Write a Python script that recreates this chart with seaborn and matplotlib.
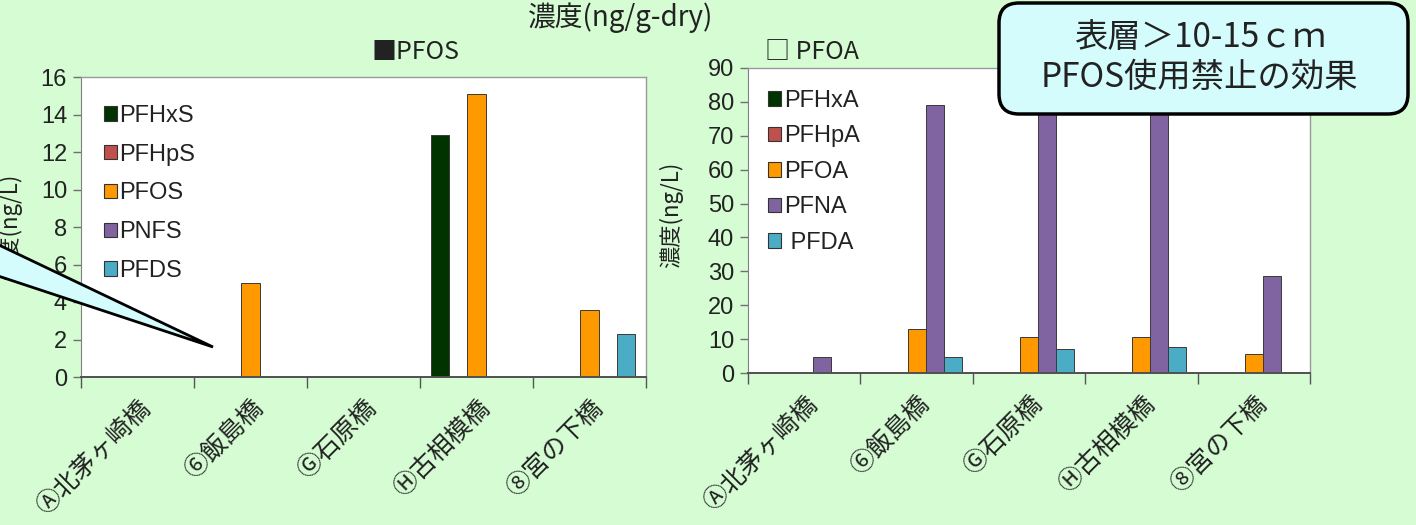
import numpy as np
import pandas as pd
import matplotlib
matplotlib.use("Agg")
import matplotlib.pyplot as plt
from matplotlib.patches import Patch, FancyBboxPatch, Polygon
import seaborn as sns

# Sampling sites along the river
sites = ["Ⓐ北茅ヶ崎橋", "⑥飯島橋", "Ⓖ石原橋", "Ⓗ古相模橋", "⑧宮の下橋"]

# Perfluoroalkyl sulfonates (ng/L)
sulfonates = ["PFHxS", "PFHpS", "PFOS", "PNFS", "PFDS"]
pfhxs = [0, 0, 0, 12.9, 0]
pfhps = [0, 0, 0, 0, 0]
pfos = [0, 5.0, 0, 15.1, 3.6]
pnfs = [0, 0, 0, 0, 0]
pfds = [0, 0, 0, 0, 2.3]

# Perfluoroalkyl carboxylates (ng/L)
carboxylates = ["PFHxA", "PFHpA", "PFOA", "PFNA", " PFDA"]
pfhxa = [0, 0, 0, 0, 0]
pfhpa = [0, 0, 0, 0, 0]
pfoa = [0, 13.0, 10.6, 10.6, 5.7]
pfna = [4.8, 79.0, 84.0, 86.0, 28.6]
pfda = [0, 4.8, 7.2, 7.7, 0]

left_ticks = list(range(0, 17, 2))
right_ticks = list(range(0, 91, 10))

series_colors = ["#003300", "#c0504d", "#ff9900", "#8064a2", "#4bacc6"]
BG = "#d5fcd3"
CALLOUT = "#d4fcfc"

LATIN = ["Liberation Sans", "Noto Sans CJK JP"]
CJK = ["Noto Sans CJK JP", "DejaVu Sans"]

sns.set_style("ticks")
plt.rcParams["font.family"] = LATIN


def long_table(names, columns):
    rows = []
    for name, vals in zip(names, columns):
        for site, v in zip(sites, vals):
            rows.append({"site": site, "compound": name, "value": v})
    return pd.DataFrame(rows)


df_left = long_table(sulfonates, [pfhxs, pfhps, pfos, pnfs, pfds])
df_right = long_table(carboxylates, [pfhxa, pfhpa, pfoa, pfna, pfda])

W, H = 1416, 525
fig = plt.figure(figsize=(W / 100, H / 100), dpi=100)
fig.patch.set_facecolor(BG)


def px_axes(x0, y0, x1, y1):
    return fig.add_axes([x0 / W, 1 - y1 / H, (x1 - x0) / W, (y1 - y0) / H])


ax_l = px_axes(81, 77, 646, 377)
ax_r = px_axes(748, 68, 1310, 373)


def draw_panel(ax, df, names, ticks, ymax, legend_anchor, legend_spacing):
    sns.barplot(data=df, x="site", y="value", hue="compound", order=sites,
                hue_order=names, palette=series_colors, width=0.8,
                edgecolor="#3a3a3a", linewidth=0.7, saturation=1,
                legend=False, ax=ax)
    ax.set_facecolor("white")
    ax.set_xlim(-0.5, 4.5)
    ax.set_ylim(0, ymax)
    ax.set_yticks(ticks)
    ax.tick_params(axis="y", length=6, width=1, color="#707070",
                   labelsize=17, labelcolor="#222222", pad=4)
    ax.set_xticks(range(len(sites)))
    ax.set_xticklabels(sites, rotation=45, ha="right", rotation_mode="anchor",
                       fontsize=18, family=CJK, color="#222222")
    ax.tick_params(axis="x", which="major", length=0, pad=13)
    ax.set_xticks(np.arange(-0.5, len(sites), 1), minor=True)
    ax.tick_params(axis="x", which="minor", length=8, width=1, color="#555555")
    ax.set_xlabel("")
    ax.set_ylabel("濃度(ng/L)", family=CJK, fontsize=16, color="#222222")
    for side in ("top", "right"):
        ax.spines[side].set_visible(True)
        ax.spines[side].set_color("#9a9a9a")
        ax.spines[side].set_linewidth(1)
    ax.spines["left"].set_color("#808080")
    ax.spines["bottom"].set_color("#505050")
    ax.spines["bottom"].set_linewidth(1.4)
    handles = [Patch(facecolor=c, edgecolor="#333333", linewidth=0.8, label=n)
               for c, n in zip(series_colors, names)]
    leg = ax.legend(handles=handles, loc="upper left",
                    bbox_to_anchor=legend_anchor, frameon=False, fontsize=17,
                    handlelength=0.55, handleheight=0.55, handletextpad=0.12,
                    labelspacing=legend_spacing, borderaxespad=0, borderpad=0)
    for t in leg.get_texts():
        t.set_color("#222222")


draw_panel(ax_l, df_left, sulfonates, left_ticks, 16, (0.040, 0.907), 0.71)
draw_panel(ax_r, df_right, carboxylates, right_ticks, 90, (0.036, 0.928), 0.57)
ax_l.yaxis.set_label_coords((22 - 81) / 565, 0.5)
ax_r.yaxis.set_label_coords((683 - 748) / 562, 0.52)

# Overlay in pixel coordinates for headings and callouts
ov = fig.add_axes([0, 0, 1, 1], zorder=10)
ov.set_xlim(0, W)
ov.set_ylim(H, 0)
ov.axis("off")
ov.patch.set_visible(False)

ov.text(621, 18, "濃度(ng/g-dry)", ha="center", va="center",
        family=CJK, fontsize=20, color="#222222")
ov.text(372, 52, "■PFOS", ha="left", va="center", family=CJK,
        fontsize=18, color="#222222")
ov.text(765, 52, "□ PFOA", ha="left", va="center", family=CJK,
        fontsize=18, color="#222222")

# Pointer wedge entering from the left edge
ov.add_patch(Polygon([(-20, 236), (213, 347), (-20, 270)], closed=True,
                     facecolor=CALLOUT, edgecolor="black", linewidth=2,
                     joinstyle="miter"))

# Rounded note box
ov.add_patch(FancyBboxPatch((999, 3), 409, 111,
                            boxstyle="round,pad=0,rounding_size=20",
                            facecolor=CALLOUT, edgecolor="black", linewidth=2.5))
ov.text(1200, 38, "表層＞10-15ｃｍ", ha="center", va="center",
        family=CJK, fontsize=24, color="#222222")
ov.text(1199, 78, "PFOS使用禁止の効果", ha="center", va="center",
        family=CJK, fontsize=24, color="#222222")

fig.savefig("out.png", dpi=100, facecolor=BG)
